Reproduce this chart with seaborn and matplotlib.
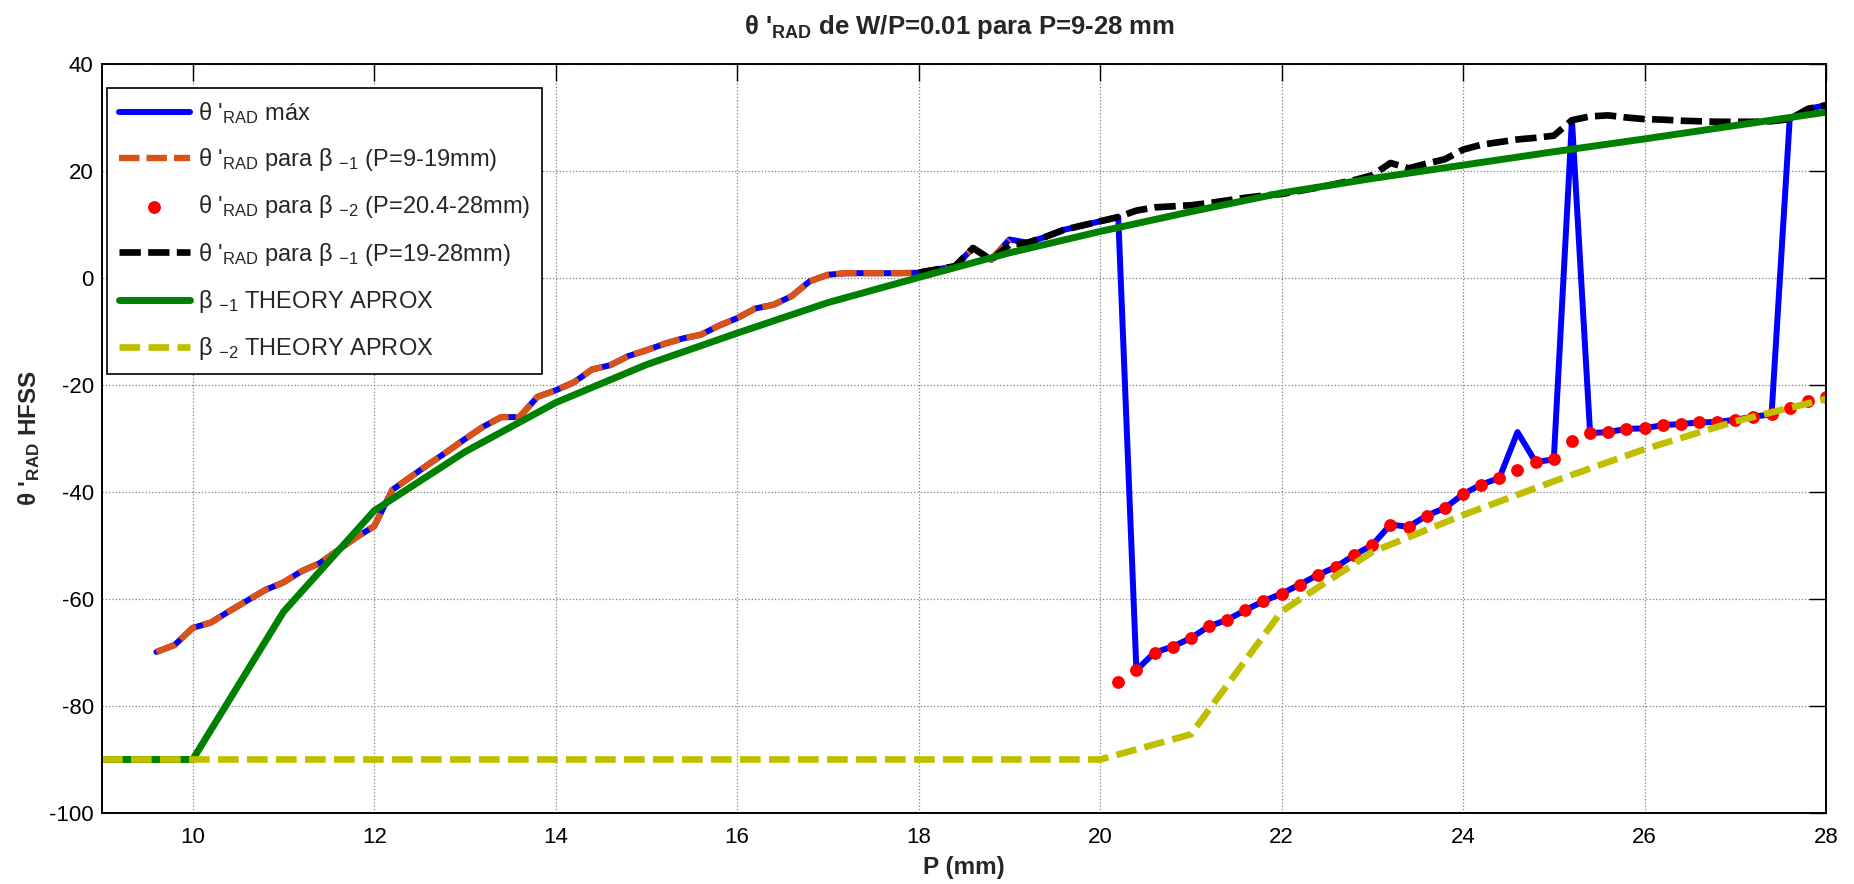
import numpy as np
import pandas as pd
import seaborn as sns
import matplotlib.pyplot as plt

# ---------------- data ----------------
P_max = [9.6, 9.8, 10.0, 10.2, 10.4, 10.6, 10.8, 11.0, 11.2, 11.4, 11.6, 11.8,
         12.0, 12.2, 12.4, 12.6, 12.8, 13.0, 13.2, 13.4, 13.6, 13.8, 14.0, 14.2,
         14.4, 14.6, 14.8, 15.0, 15.2, 15.4, 15.6, 15.8, 16.0, 16.2, 16.4, 16.6,
         16.8, 17.0, 17.2, 17.4, 17.6, 17.8, 18.0, 18.2, 18.4, 18.6, 18.8, 19.0,
         19.2, 19.4, 19.6, 19.8, 20.0, 20.2, 20.4, 20.6, 20.8, 21.0, 21.2, 21.4,
         21.6, 21.8, 22.0, 22.2, 22.4, 22.6, 22.8, 23.0, 23.2, 23.4, 23.6, 23.8,
         24.0, 24.2, 24.4, 24.6, 24.8, 25.0, 25.2, 25.4, 25.6, 25.8, 26.0, 26.2,
         26.4, 26.6, 26.8, 27.0, 27.2, 27.4, 27.6, 27.8, 28.0]
theta_max = [-69.9, -68.6, -65.4, -64.4, -62.3, -60.3, -58.3, -56.9, -54.8, -53.3, -50.9, -48.5,
             -46.4, -39.6, -37.2, -34.8, -32.5, -30.1, -27.8, -26.0, -26.0, -22.2, -21.0, -19.5,
             -17.1, -16.3, -14.6, -13.5, -12.3, -11.3, -10.6, -8.9, -7.5, -5.7, -5.0, -3.4,
             -0.6, 0.6, 0.9, 0.9, 0.9, 0.9, 1.0, 1.6, 2.2, 5.6, 3.4, 7.2,
             6.6, 7.7, 9.0, 9.8, 10.6, 11.4, -73.3, -70.0, -68.9, -67.3, -65.1, -63.9,
             -62.1, -60.4, -59.0, -57.3, -55.5, -54.0, -51.8, -49.9, -46.1, -46.5, -44.4, -43.0,
             -40.4, -38.6, -37.4, -28.8, -34.4, -33.9, 29.5, -29.0, -28.8, -28.2, -28.1, -27.5,
             -27.3, -27.0, -26.9, -26.5, -25.9, -25.5, 29.7, 31.6, 32.3]

P_b1_low = [9.6, 9.8, 10.0, 10.2, 10.4, 10.6, 10.8, 11.0, 11.2, 11.4, 11.6, 11.8,
            12.0, 12.2, 12.4, 12.6, 12.8, 13.0, 13.2, 13.4, 13.6, 13.8, 14.0, 14.2,
            14.4, 14.6, 14.8, 15.0, 15.2, 15.4, 15.6, 15.8, 16.0, 16.2, 16.4, 16.6,
            16.8, 17.0, 17.2, 17.4, 17.6, 17.8, 18.0, 18.2, 18.4, 18.6, 18.8, 19.0]
theta_b1_low = [-69.9, -68.6, -65.4, -64.4, -62.3, -60.3, -58.3, -56.9, -54.8, -53.3, -50.9, -48.5,
                -46.4, -39.6, -37.2, -34.8, -32.5, -30.1, -27.8, -26.0, -26.0, -22.2, -21.0, -19.5,
                -17.1, -16.3, -14.6, -13.5, -12.3, -11.3, -10.6, -8.9, -7.5, -5.7, -5.0, -3.4,
                -0.6, 0.6, 0.9, 0.9, 0.9, 0.9, 1.0, 1.6, 2.2, 5.6, 3.4, 7.2]

P_b2 = [20.2, 20.4, 20.6, 20.8, 21.0, 21.2, 21.4, 21.6, 21.8, 22.0, 22.2, 22.4,
        22.6, 22.8, 23.0, 23.2, 23.4, 23.6, 23.8, 24.0, 24.2, 24.4, 24.6, 24.8,
        25.0, 25.2, 25.4, 25.6, 25.8, 26.0, 26.2, 26.4, 26.6, 26.8, 27.0, 27.2,
        27.4, 27.6, 27.8, 28.0]
theta_b2 = [-75.6, -73.3, -70.0, -68.9, -67.3, -65.1, -63.9, -62.1, -60.4, -59.0, -57.3, -55.5,
            -54.0, -51.8, -49.9, -46.1, -46.5, -44.4, -43.0, -40.4, -38.6, -37.4, -35.8, -34.4,
            -33.9, -30.5, -29.0, -28.8, -28.2, -28.1, -27.5, -27.3, -27.0, -26.9, -26.5, -25.9,
            -25.5, -24.3, -22.9, -22.3]

P_b1_high = [18.0, 18.2, 18.4, 18.6, 18.8, 19.0, 19.2, 19.4, 19.6, 19.8, 20.0, 20.2,
             20.4, 20.6, 20.8, 21.0, 21.2, 21.4, 21.6, 21.8, 22.0, 22.2, 22.4, 22.6,
             22.8, 23.0, 23.2, 23.4, 23.6, 23.8, 24.0, 24.2, 24.4, 24.6, 24.8, 25.0,
             25.2, 25.4, 25.6, 25.8, 26.0, 26.2, 26.4, 26.6, 26.8, 27.0, 27.2, 27.4,
             27.6, 27.8, 28.0]
theta_b1_high = [1.0, 1.6, 2.2, 5.6, 3.4, 6.2, 6.6, 7.7, 9.0, 9.8, 10.6, 11.4,
                 12.6, 13.2, 13.4, 13.6, 14.0, 14.5, 15.0, 15.4, 15.7, 16.3, 16.9, 17.6,
                 18.3, 19.2, 21.5, 20.5, 21.4, 22.2, 24.0, 24.9, 25.4, 25.9, 26.2, 26.6,
                 29.5, 30.2, 30.4, 30.0, 29.7, 29.6, 29.4, 29.3, 29.2, 29.2, 29.2, 29.3,
                 29.7, 31.6, 32.3]

P_theory = [9, 10, 11, 12, 13, 14, 15, 16, 17, 18, 19, 20, 21, 22, 23, 24, 25, 26, 27, 28]
beta1_theory = [-90.0, -90.0, -62.4, -43.5, -32.5, -23.3, -16.2, -10.3, -4.6, 0.1,
                4.7, 8.7, 12.4, 15.9, 18.6, 21.1, 23.6, 26.0, 28.5, 31.0]
beta2_theory = [-90.0, -90.0, -90.0, -90.0, -90.0, -90.0, -90.0, -90.0, -90.0, -90.0,
                -90.0, -90.0, -85.3, -62.3, -51.2, -44.3, -38.0, -32.0, -26.8, -22.6]

x_ticks = [10, 12, 14, 16, 18, 20, 22, 24, 26, 28]
y_ticks = [-100, -80, -60, -40, -20, 0, 20, 40]

labels = [
    "θ '$_{\\mathregular{RAD}}$ máx",
    "θ '$_{\\mathregular{RAD}}$ para β $_{\\mathregular{-1}}$ (P=9-19mm)",
    "θ '$_{\\mathregular{RAD}}$ para β $_{\\mathregular{-2}}$ (P=20.4-28mm)",
    "θ '$_{\\mathregular{RAD}}$ para β $_{\\mathregular{-1}}$ (P=19-28mm)",
    "β $_{\\mathregular{-1}}$ THEORY APROX",
    "β $_{\\mathregular{-2}}$ THEORY APROX",
]
title_txt = "θ '$_{\\mathbf{RAD}}$ de W/P=0.01 para P=9-28 mm"
xlabel_txt = "P (mm)"
ylabel_txt = "θ '$_{\\mathbf{RAD}}$ HFSS"

# ---------------- style ----------------
sns.set_style("white")
plt.rcParams['font.family'] = ['Liberation Sans', 'DejaVu Sans']
plt.rcParams['mathtext.fontset'] = 'custom'
plt.rcParams['mathtext.rm'] = 'Liberation Sans'
plt.rcParams['mathtext.it'] = 'Liberation Sans:italic'
plt.rcParams['mathtext.bf'] = 'Liberation Sans:bold'
plt.rcParams['axes.unicode_minus'] = False

W, H = 1854, 884
fig = plt.figure(figsize=(W / 100, H / 100), dpi=100)
ax = fig.add_axes([102 / W, 1 - 813 / H, (1826 - 102) / W, (813 - 64) / H])

BLUE = (0, 0, 1)
ORANGE = (0.85, 0.325, 0.098)
RED = (1, 0, 0)
GREEN = (0, 0.5, 0)
YELLOW = (0.75, 0.75, 0)

dash_a = (0, (3.2, 1.1))
dash_b = (0, (3.1, 1.25))

sns.lineplot(x=P_max, y=theta_max, ax=ax, color=BLUE, lw=4.3, sort=False,
             estimator=None, errorbar=None, label=labels[0], zorder=2.0)
sns.lineplot(x=P_b1_low, y=theta_b1_low, ax=ax, color=ORANGE, lw=4.6, linestyle=dash_a,
             sort=False, estimator=None, errorbar=None, label=labels[1], zorder=2.1)
sns.scatterplot(x=P_b2, y=theta_b2, ax=ax, color=RED, s=85, linewidth=0,
                label=labels[2], zorder=2.2)
sns.lineplot(x=P_b1_high, y=theta_b1_high, ax=ax, color='black', lw=4.8, linestyle=dash_a,
             sort=False, estimator=None, errorbar=None, label=labels[3], zorder=2.3)
sns.lineplot(x=P_theory, y=beta1_theory, ax=ax, color=GREEN, lw=5.0,
             sort=False, estimator=None, errorbar=None, label=labels[4], zorder=2.4)
sns.lineplot(x=P_theory, y=beta2_theory, ax=ax, color=YELLOW, lw=4.8, linestyle=dash_b,
             sort=False, estimator=None, errorbar=None, label=labels[5], zorder=2.5)

ax.set_xlim(9, 28)
ax.set_ylim(-100, 40)
ax.set_xticks(x_ticks)
ax.set_yticks(y_ticks)
ax.grid(True, linestyle=':', color='0.5', linewidth=0.9)
ax.set_axisbelow(True)
for s in ax.spines.values():
    s.set_linewidth(1.4)
    s.set_color('black')
ax.tick_params(direction='in', length=12, width=1.0, top=True, right=True,
               labelsize=16, colors='black')
ax.tick_params(axis='x', pad=10)
ax.tick_params(axis='y', pad=6)

ax.set_xlabel(xlabel_txt, fontsize=17.5, fontweight='bold')
ax.xaxis.set_label_coords(0.5, -0.057)
ax.xaxis.label.set_va('top')
ax.set_ylabel(ylabel_txt, fontsize=17.5, fontweight='bold')
ax.yaxis.set_label_coords(-0.035, 0.5)

fig.text(960 / W, 1 - 34 / H, title_txt, fontsize=18.5, fontweight='bold',
         ha='center', va='baseline')

handles, labs = ax.get_legend_handles_labels()
leg = ax.legend(handles, labs, loc='upper left', bbox_to_anchor=(0.0029, 0.968),
                borderaxespad=0, fontsize=17, frameon=True, fancybox=False,
                edgecolor='black', framealpha=1, handlelength=3.0, handletextpad=0.35,
                labelspacing=0.86, borderpad=0.5, scatterpoints=1)
leg.get_frame().set_linewidth(1.2)

fig.savefig("out.png", dpi=100)
